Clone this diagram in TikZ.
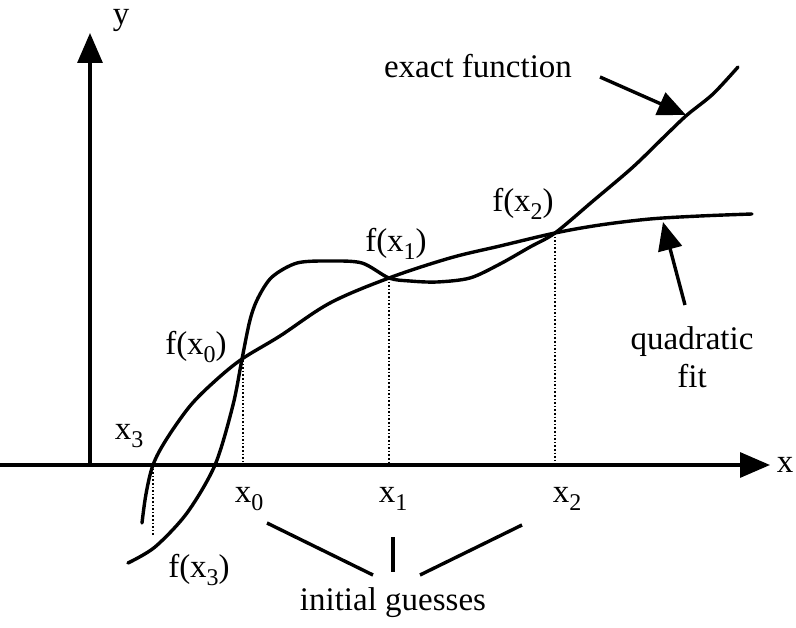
\documentclass[tikz,border=0pt]{standalone}
\usepackage{fontspec}
\setmainfont{Liberation Serif}
\usetikzlibrary{arrows.meta}
\tikzset{
  lbl/.style={font=\fontsize{33}{38}\selectfont, inner sep=0pt},
  curve/.style={line width=3.4pt, line cap=round, line join=round},
  axis/.style={line width=3.2pt, -{Triangle[length=30pt,width=25pt]}},
  pointer/.style={line width=3.4pt, -{Triangle[length=28pt,width=24pt]}},
  guide/.style={line width=1.6pt, dotted},
  bar/.style={line width=3.4pt}
}
\newcommand{\sub}[2]{#1\raisebox{-8pt}{\fontsize{24}{24}\selectfont #2}}
\begin{document}
\begin{tikzpicture}[x=1pt,y=-1pt]
\useasboundingbox (0,0) rectangle (796,628);
% axes
\coordinate (O) at (90,465);
\coordinate (xs) at (0,465);
\coordinate (xe) at (770,465);
\coordinate (ye) at (90,33);
\draw[axis] (xs) -- (xe);
\draw[axis] (O) -- (ye);
\node[lbl, anchor=base] (ylab) at (121,25) {y};
\node[lbl] (xlab) at (785,465) {x};
% key points
\coordinate (P3) at (153,465);
\coordinate (F3) at (153,535);
\coordinate (P0) at (243,465);
\coordinate (F0) at (243,360);
\coordinate (P1) at (389,465);
\coordinate (F1) at (389,278);
\coordinate (P2) at (555,465);
\coordinate (F2) at (555,233);
% dotted guides
\draw[guide] (F0) -- (P0);
\draw[guide] (F1) -- (P1);
\draw[guide] (F2) -- (P2);
\draw[guide] (P3) -- (F3);
% quadratic fit
\draw[curve] plot[smooth, tension=0.55] coordinates {
 (142,523) (146,494) (153,465) (166,440) (190,406) (215,381) (242,359)
 (280,336) (330,303) (389,278) (450,258) (500,246) (555,233)
 (600,225) (650,219) (700,216) (752,214)};
% exact function
\draw[curve] plot[smooth, tension=0.5] coordinates {
 (128,563) (155,547) (187,513) (215,465) (233,405) (242,359) (250,320)
 (258,298) (272,277) (297,263) (330,261) (362,263) (389,278)
 (410,281) (437,282) (470,278) (500,264) (530,247) (555,233)
 (593,201) (633,167) (667,134) (687,115) (713,94) (738,67)};
% labels on curves
\node[lbl] (lF0) at (196,347) {f(\sub{x}{0})};
\node[lbl] (lF1) at (396,244) {f(\sub{x}{1})};
\node[lbl] (lF2) at (523,204) {f(\sub{x}{2})};
\node[lbl] (lF3) at (199,570) {f(\sub{x}{3})};
\node[lbl] (lx3) at (129,436) {\sub{x}{3}};
\node[lbl] (lx0) at (249,499) {\sub{x}{0}};
\node[lbl] (lx1) at (393,499) {\sub{x}{1}};
\node[lbl] (lx2) at (567,499) {\sub{x}{2}};
% initial guesses
\node[lbl] (ig) at (393,603) {initial guesses};
\coordinate (g0a) at (267,523);
\coordinate (g0b) at (373,575);
\coordinate (g1a) at (393,537);
\coordinate (g1b) at (393,572);
\coordinate (g2a) at (420,575);
\coordinate (g2b) at (522,525);
\draw[bar] (g0a) -- (g0b);
\draw[bar] (g1a) -- (g1b);
\draw[bar] (g2a) -- (g2b);
% exact function pointer
\node[lbl] (ef) at (478,66) {exact function};
\coordinate (efa) at (600,77);
\coordinate (efb) at (686,115);
\draw[pointer] (efa) -- (efb);
% quadratic fit pointer
\node[lbl, align=center] (qf) at (692,357) {quadratic\\fit};
\coordinate (qfa) at (685,305);
\coordinate (qfb) at (663,222);
\draw[pointer] (qfa) -- (qfb);
\end{tikzpicture}
\end{document}
